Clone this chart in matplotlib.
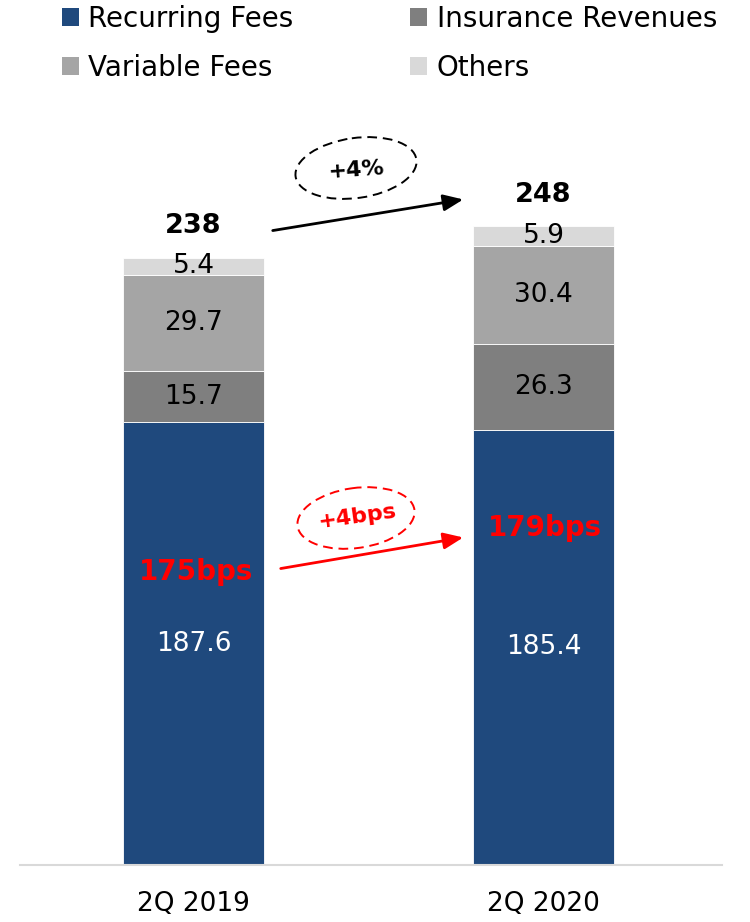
import matplotlib
matplotlib.use('Agg')
import matplotlib.pyplot as plt
import numpy as np
from matplotlib.patches import Ellipse, Patch

plt.rcParams['font.family'] = ['DejaVu Sans']

# Data (EUR m)
periods = ['2Q 2019', '2Q 2020']
series = ['Recurring Fees', 'Insurance Revenues', 'Variable Fees', 'Others']
recurring = [187.6, 185.4]
insurance = [15.7, 26.3]
variable = [29.7, 30.4]
others = [5.4, 5.9]
totals = [238, 248]
margins = ['175bps', '179bps']
growth_total = '+4%'
growth_margin = '+4bps'

colors = ['#1f497d', '#7f7f7f', '#a5a5a5', '#d9d9d9']
label_colors = ['white', 'black', 'black', 'black']

fig = plt.figure(figsize=(7.5, 9.22), dpi=100)
ax = fig.add_axes([20 / 750, 57 / 922, 702 / 750, 865 / 922])

# value axis starts above zero (as in the original slide)
y0 = 51.2
ax.set_ylim(y0, y0 + 865 / 3.245)
x = np.arange(len(periods))
ax.set_xlim(-173.5 / 350, 1 + 178.5 / 350)
width = 141 / 350

bottom = np.zeros(len(periods))
for vals, col, lcol in zip([recurring, insurance, variable, others], colors, label_colors):
    vals = np.array(vals)
    ax.bar(x, vals, width, bottom=bottom, color=col, edgecolor='white', linewidth=0.6)
    for xi, b, v in zip(x, bottom, vals):
        lo = max(b, y0)
        ax.text(xi, (lo + b + v) / 2, f'{v:.1f}', ha='center', va='center',
                fontsize=19, color=lcol)
    bottom += vals

for xi, top, t in zip(x, bottom, totals):
    ax.annotate(str(t), (xi, top), xytext=(0, 13), textcoords='offset points',
                ha='center', va='bottom', fontsize=19.5, fontweight='bold')

for s in ['top', 'left', 'right']:
    ax.spines[s].set_visible(False)
ax.spines['bottom'].set_color('#d9d9d9')
ax.spines['bottom'].set_linewidth(1.5)
ax.set_yticks([])
ax.set_xticks(x)
ax.set_xticklabels(periods, fontsize=19)
ax.tick_params(axis='x', length=0, pad=19)

# legend
handles = [Patch(facecolor=c) for c in colors]
order = [0, 2, 1, 3]
fig.legend([handles[i] for i in order], [series[i] for i in order], ncol=2,
           loc='upper left', bbox_to_anchor=(62 / 750, 1 - 5 / 922), frameon=False,
           fontsize=20, handlelength=0.6, handleheight=0.6, handletextpad=0.35,
           columnspacing=4.2, labelspacing=0.76, borderpad=0, borderaxespad=0)

# overlay in pixel coordinates for the growth arrows
ov = fig.add_axes([0, 0, 1, 1])
ov.set_xlim(0, 750)
ov.set_ylim(922, 0)
ov.axis('off')

ov.annotate('', xy=(466, 199), xytext=(270, 231),
            arrowprops=dict(arrowstyle='-|>,head_length=0.6,head_width=0.25',
                            color='black', lw=2, mutation_scale=20))
ov.add_patch(Ellipse((356, 168), 122, 60, angle=-8, fill=False, ls=(0, (5, 3)),
                     lw=1.4, ec='black'))
ov.text(356, 170, growth_total, ha='center', va='center', fontsize=16,
        fontweight='bold', rotation=4)

ov.annotate('', xy=(466, 537), xytext=(278, 569),
            arrowprops=dict(arrowstyle='-|>,head_length=0.6,head_width=0.25',
                            color='red', lw=2, mutation_scale=20))
ov.add_patch(Ellipse((356, 518), 118, 60, angle=-8, fill=False, ls=(0, (5, 3)),
                     lw=1.4, ec='red'))
ov.text(357, 517, growth_margin, ha='center', va='center', fontsize=16,
        fontweight='bold', color='red', rotation=8)

for xi, m, py in zip([196, 545], margins, [572, 528]):
    ov.text(xi, py, m, ha='center', va='center', fontsize=20, fontweight='bold', color='red')

fig.savefig('out.png', dpi=100)
